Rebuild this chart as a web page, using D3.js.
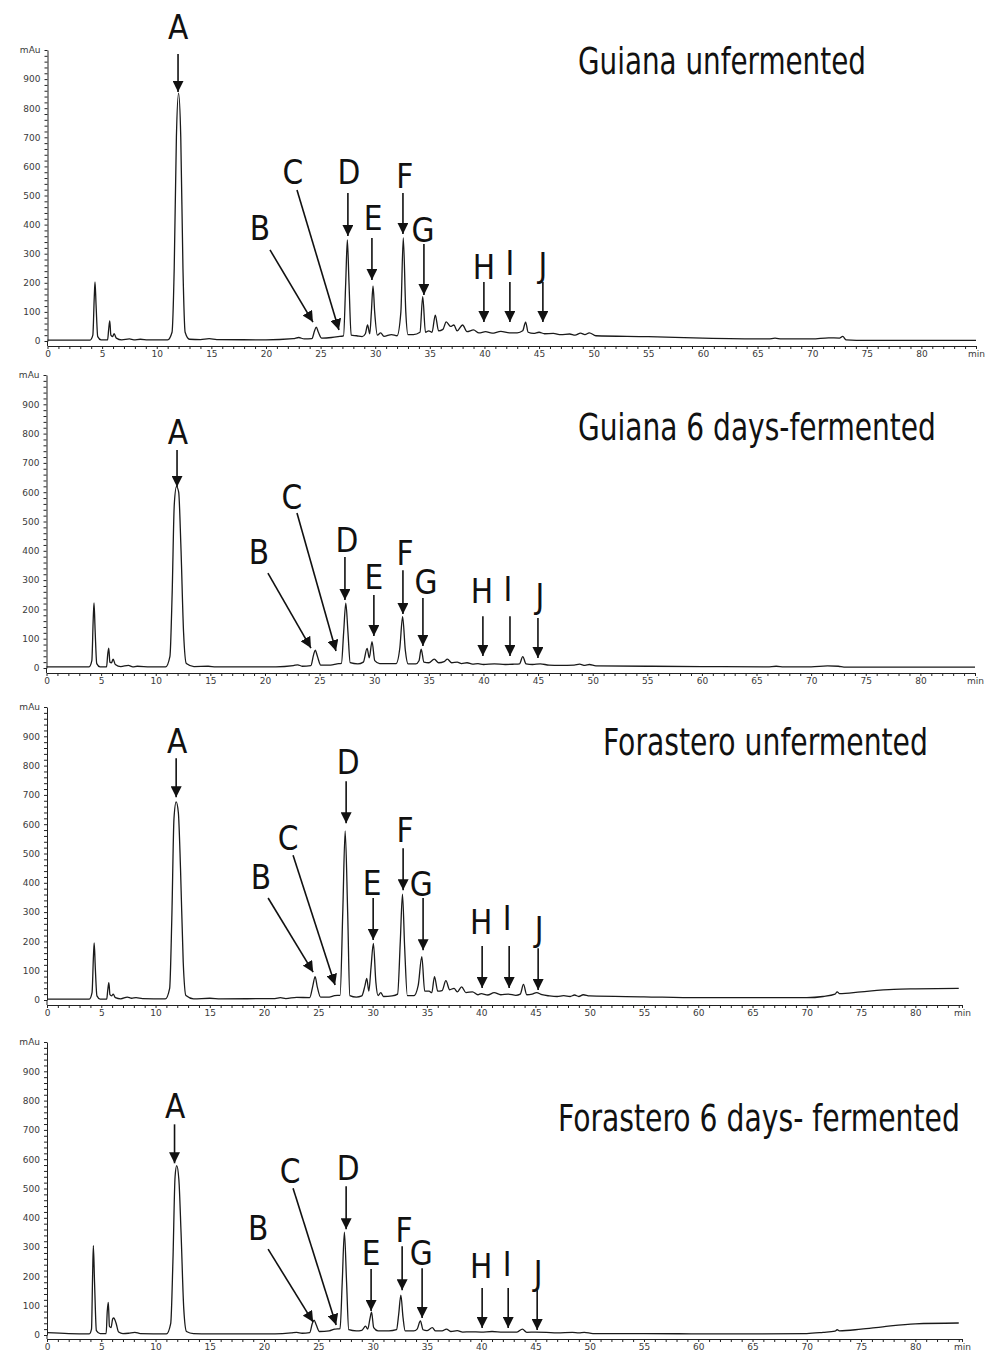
<!DOCTYPE html>
<html>
<head>
<meta charset="utf-8">
<script src="https://cdn.jsdelivr.net/npm/d3@7"></script>
<style>
body { margin: 0; background: #fff; }
svg { display: block; }
.axis text { font-family: "DejaVu Sans", Verdana, sans-serif; font-size: 9px; fill: #3a3a3a; }
.axis path, .axis line { stroke: #222; }
.peak { font-family: "Liberation Sans Narrow", "DejaVu Sans Condensed", "Roboto", sans-serif; font-size: 33px; fill: #111; }
.title { font-family: "Liberation Sans Narrow", "DejaVu Sans Condensed", "Roboto", sans-serif; font-size: 38px; fill: #111; }
</style>
</head>
<body>
<svg id="chart"></svg>
<script>

var titles = ["Guiana unfermented", "Guiana 6 days-fermented", "Forastero unfermented", "Forastero 6 days- fermented"];
var mauTicks = [0, 100, 200, 300, 400, 500, 600, 700, 800, 900];
var timeTicks = [0, 5, 10, 15, 20, 25, 30, 35, 40, 45, 50, 55, 60, 65, 70, 75, 80];

// [retention time (min), absorbance (mAu)]
var trace_guiana_unf = [[0,3],[2,3],[3.9,3],[4.15,20],[4.28,150],[4.35,203],[4.45,120],[4.6,15],[4.9,4],[5.5,4],[5.6,40],[5.7,69],[5.8,20],[5.95,15],[6.1,25],[6.3,10],[6.8,4],[7.5,7],[7.9,4],[8.5,6],[9.2,4],[11.0,4],[11.4,30],[11.6,250],[11.8,700],[12.0,852],[12.2,700],[12.4,250],[12.6,30],[13.0,6],[14.0,5],[14.8,8],[15.5,5],[20,4],[22.5,8],[23,12],[23.5,7],[24.2,8],[24.45,35],[24.6,48],[24.8,30],[25.1,10],[26,12],[26.6,15],[27.1,18],[27.3,200],[27.45,347],[27.6,200],[27.8,20],[28.3,18],[28.8,15],[29.1,25],[29.3,55],[29.5,25],[29.65,100],[29.8,189],[29.95,100],[30.2,20],[30.5,28],[30.8,16],[31.5,22],[32,18],[32.35,100],[32.57,354],[32.8,100],[33.0,22],[33.5,22],[34.1,30],[34.35,152],[34.6,30],[34.9,35],[35.2,30],[35.5,89],[35.8,35],[36.2,40],[36.5,66],[36.9,50],[37.2,55],[37.5,35],[38.0,55],[38.4,32],[39.0,38],[39.5,28],[40.1,32],[40.7,27],[41.5,33],[42.3,28],[43.0,28],[43.5,35],[43.77,65],[44.0,30],[44.5,26],[45.0,30],[45.5,25],[46.3,26],[47,22],[47.8,24],[48.3,20],[48.8,27],[49.2,22],[49.6,28],[50.2,18],[55,15],[60,10],[66,7],[66.6,10],[67.2,7],[70,7],[71.5,11],[72.5,10],[72.8,16],[73.1,4],[75,2],[80,2],[85,2]];

var trace_guiana_ferm = [[0,4],[3.9,4],[4.15,25],[4.28,170],[4.35,222],[4.45,130],[4.6,15],[4.9,4],[5.5,4],[5.6,45],[5.7,68],[5.8,20],[5.95,18],[6.1,30],[6.3,12],[6.8,5],[7.5,9],[7.9,4],[8.3,6],[9.5,4],[10.9,4],[11.3,40],[11.5,250],[11.7,560],[11.9,619],[12.1,600],[12.3,420],[12.55,120],[12.8,15],[13.5,5],[14.8,6],[15.5,4],[21,4],[22.6,8],[23,11],[23.4,6],[24.2,8],[24.45,45],[24.6,61],[24.8,40],[25.1,10],[26.0,10],[26.6,14],[27.0,16],[27.2,120],[27.4,221],[27.6,120],[27.8,18],[28.5,14],[29.0,20],[29.35,67],[29.55,35],[29.8,90],[30.05,25],[30.5,15],[31.2,15],[32.0,15],[32.35,70],[32.6,175],[32.85,60],[33.1,14],[33.8,14],[34.1,25],[34.3,64],[34.55,20],[35.0,18],[35.5,30],[35.9,18],[36.4,22],[36.7,30],[37.1,18],[37.6,20],[38.0,15],[38.5,18],[39.0,13],[39.5,15],[40.0,12],[41,14],[42,12],[42.8,13],[43.3,14],[43.6,39],[43.9,14],[44.5,12],[45.2,14],[46,10],[47,9],[48.3,10],[48.8,13],[49.3,9],[49.7,12],[50.3,7],[55,6],[60,5],[66,4],[66.8,6],[67.5,4],[70,4],[71.5,7],[72.5,6],[73,3],[80,3],[85,3]];

var trace_forastero_unf = [[0,3],[3.9,3],[4.15,25],[4.28,150],[4.35,195],[4.45,110],[4.6,14],[4.9,3],[5.5,3],[5.6,35],[5.7,59],[5.8,18],[5.95,14],[6.1,20],[6.3,8],[6.8,4],[7.4,10],[7.8,6],[8.2,8],[8.8,5],[10.9,4],[11.3,40],[11.5,280],[11.7,620],[11.9,676],[12.1,640],[12.3,450],[12.55,130],[12.8,15],[13.5,4],[15,6],[16,4],[21,5],[21.5,8],[22,5],[23,9],[24.2,8],[24.5,50],[24.7,80],[24.9,45],[25.2,10],[26,10],[26.5,15],[27.0,16],[27.25,300],[27.47,577],[27.7,300],[27.9,15],[28.5,10],[29.0,14],[29.3,50],[29.46,74],[29.65,30],[29.85,110],[30.07,193],[30.3,60],[30.5,15],[30.75,25],[31.0,12],[31.8,14],[32.3,20],[32.55,200],[32.75,361],[32.95,180],[33.2,15],[33.8,15],[34.2,50],[34.53,148],[34.8,30],[35.2,30],[35.45,25],[35.7,80],[36.0,30],[36.4,32],[36.75,66],[37.1,35],[37.5,40],[37.8,28],[38.2,45],[38.6,25],[39.2,28],[39.7,18],[40.0,22],[40.6,17],[41.2,25],[41.8,18],[42.5,20],[43.2,16],[43.6,20],[43.9,53],[44.2,18],[44.7,20],[45.1,25],[45.6,18],[46.3,14],[47,12],[47.6,15],[48.2,12],[48.6,17],[49.0,12],[49.4,18],[50,14],[55,11],[60,8],[65,8],[70,8],[71.5,12],[72.6,20],[72.8,28],[73.0,22],[75,28],[78,36],[80,38],[84,40]];

var trace_forastero_ferm = [[0,8],[2,5],[3.9,4],[4.1,20],[4.2,200],[4.27,305],[4.38,180],[4.55,15],[4.9,5],[5.45,5],[5.55,80],[5.65,111],[5.75,30],[5.9,25],[6.05,55],[6.15,58],[6.35,42],[6.6,10],[7.0,5],[7.5,6],[8.1,9],[8.6,5],[11.0,4],[11.4,40],[11.6,250],[11.8,540],[11.95,578],[12.15,530],[12.35,350],[12.6,90],[12.85,12],[13.5,5],[15,4],[21,4],[22.5,7],[23,9],[23.5,6],[24.2,8],[24.45,40],[24.6,51],[24.8,35],[25.1,12],[26,14],[26.5,20],[27.0,22],[27.2,180],[27.4,351],[27.6,180],[27.8,18],[28.5,14],[29.0,16],[29.35,30],[29.55,20],[29.75,55],[29.9,78],[30.1,25],[30.5,14],[31.5,14],[32.2,18],[32.4,70],[32.6,136],[32.8,60],[33.0,14],[33.8,14],[34.1,20],[34.4,48],[34.65,18],[35.0,15],[35.5,25],[35.8,14],[36.4,14],[36.8,20],[37.2,12],[37.8,15],[38.3,10],[39,11],[40,10],[41,12],[42,10],[43.3,10],[43.8,20],[44.2,9],[45,10],[46,9],[47,7],[48.4,9],[49,7],[49.5,9],[50.3,5],[55,5],[60,4],[65,4],[70,5],[71.5,9],[72.6,13],[72.8,18],[73.0,14],[75,20],[77,28],[80,38],[84,41]];

// [letter, text min, text mAu, arrow from min, from mAu, arrow to min, to mAu]
var labels_guiana_unf = [
    ["A", 11.95, 1079, 11.95, 986, 11.95, 856],
    ["B", 19.45, 388, 20.37, 313, 24.3, 65],
    ["C", 22.47, 581, 22.84, 519, 26.68, 38],
    ["D", 27.6, 581, 27.5, 509, 27.5, 361],
    ["E", 29.8, 423, 29.7, 354, 29.7, 210],
    ["F", 32.72, 567, 32.54, 509, 32.54, 368],
    ["G", 34.37, 381, 34.46, 333, 34.46, 158],
    ["H", 39.95, 254, 39.95, 203, 39.95, 65],
    ["I", 42.33, 268, 42.33, 203, 42.33, 65],
    ["J", 45.35, 261, 45.35, 203, 45.35, 65]
];
var labels_guiana_ferm = [
    ["A", 12.04, 805, 11.95, 744, 11.95, 618],
    ["B", 19.45, 396, 20.27, 324, 24.21, 68],
    ["C", 22.47, 584, 22.93, 529, 26.5, 58],
    ["D", 27.5, 437, 27.32, 379, 27.32, 232],
    ["E", 29.97, 311, 29.97, 249, 29.97, 109],
    ["F", 32.82, 392, 32.63, 334, 32.63, 184],
    ["G", 34.74, 294, 34.46, 239, 34.46, 75],
    ["H", 39.86, 263, 39.95, 177, 39.95, 41],
    ["I", 42.24, 270, 42.43, 177, 42.43, 41],
    ["J", 45.17, 246, 44.99, 171, 44.99, 34]
];
var labels_forastero_unf = [
    ["A", 11.98, 883, 11.9, 825, 11.9, 692],
    ["B", 19.72, 419, 20.37, 348, 24.52, 95],
    ["C", 22.21, 552, 22.67, 494, 26.54, 51],
    ["D", 27.74, 811, 27.56, 747, 27.56, 603],
    ["E", 29.95, 399, 30.05, 348, 30.05, 205],
    ["F", 32.99, 580, 32.81, 518, 32.81, 375],
    ["G", 34.47, 396, 34.65, 348, 34.65, 170],
    ["H", 40.0, 266, 40.09, 184, 40.09, 41],
    ["I", 42.4, 280, 42.58, 184, 42.58, 41],
    ["J", 45.35, 242, 45.25, 177, 45.25, 34]
];
var labels_forastero_ferm = [
    ["A", 11.8, 781, 11.75, 719, 11.75, 586],
    ["B", 19.45, 365, 20.37, 293, 24.52, 44],
    ["C", 22.4, 559, 22.67, 501, 26.64, 34],
    ["D", 27.74, 569, 27.56, 508, 27.56, 361],
    ["E", 29.86, 280, 29.86, 225, 29.86, 82],
    ["F", 32.9, 358, 32.72, 303, 32.72, 153],
    ["G", 34.47, 280, 34.56, 228, 34.56, 58],
    ["H", 40.0, 235, 40.09, 160, 40.09, 24],
    ["I", 42.4, 242, 42.49, 160, 42.49, 24],
    ["J", 45.25, 211, 45.16, 153, 45.16, 17]
];

var traces = [trace_guiana_unf, trace_guiana_ferm, trace_forastero_unf, trace_forastero_ferm];
var labelSets = [labels_guiana_unf, labels_guiana_ferm, labels_forastero_unf, labels_forastero_ferm];

// panel layout in pixels
var panels = [
    {x0: 47.5, xEnd: 976, tEnd: 85, yZero: 341, yTop: 50, axisY: 346, titleX: 578, titleY: 74, titleW: 288},
    {x0: 46.5, xEnd: 975, tEnd: 85, yZero: 668, yTop: 375, axisY: 673, titleX: 578, titleY: 440, titleW: 358},
    {x0: 47, xEnd: 962, tEnd: 84.3, yZero: 1000, yTop: 707, axisY: 1005, titleX: 603, titleY: 755, titleW: 325},
    {x0: 47, xEnd: 962, tEnd: 84.3, yZero: 1335, yTop: 1042, axisY: 1339, titleX: 558, titleY: 1131, titleW: 402}
];

var svgWidth = 991;
var svgHeight = 1354;
var svg = d3.select('#chart')
    .attr("width", svgWidth)
    .attr("height", svgHeight);

svg.append("defs").append("marker")
    .attr("id", "arrowhead")
    .attr("markerUnits", "userSpaceOnUse")
    .attr("markerWidth", 11)
    .attr("markerHeight", 11)
    .attr("viewBox", "0 0 11 11")
    .attr("refX", 11)
    .attr("refY", 5.5)
    .attr("orient", "auto")
    .append("path")
    .attr("d", "M0,0 L11,5.5 L0,11 z")
    .attr("fill", "#111");

function drawPanel(p, trace, labels, title) {
    var g = svg.append("g");

    var x = d3.scaleLinear().domain([0, p.tEnd]).range([p.x0, p.xEnd]);
    var y = d3.scaleLinear().domain([0, 1000]).range([p.yZero, p.yTop]);

    // y axis, minor ticks every 20 mAu
    var yAxis = d3.axisLeft(y)
        .tickValues(d3.range(0, 1001, 20))
        .tickSize(3)
        .tickSizeOuter(0)
        .tickPadding(4)
        .tickFormat(function(d) {
            if (d === 1000) return "mAu";
            if (mauTicks.indexOf(d) >= 0) return d;
            return "";
        });
    g.append("g")
        .attr("class", "axis")
        .attr("transform", "translate(" + p.x0 + ",0)")
        .call(yAxis);
    g.append("line")
        .attr("x1", p.x0).attr("x2", p.x0)
        .attr("y1", p.yZero).attr("y2", p.axisY)
        .attr("stroke", "#222");

    // x axis, minor ticks every minute, "min" at the end
    var xTicks = d3.range(0, Math.floor(p.tEnd) + 1);
    if (xTicks[xTicks.length - 1] !== p.tEnd) xTicks.push(p.tEnd);
    var xAxis = d3.axisBottom(x)
        .tickValues(xTicks)
        .tickSize(3)
        .tickSizeOuter(0)
        .tickPadding(2)
        .tickFormat(function(d) {
            if (d === p.tEnd) return "min";
            return timeTicks.indexOf(d) >= 0 ? d : "";
        });
    g.append("g")
        .attr("class", "axis")
        .attr("transform", "translate(0," + p.axisY + ")")
        .call(xAxis);

    // chromatogram trace
    var line = d3.line()
        .x(function(d) { return x(d[0]); })
        .y(function(d) { return y(d[1]); })
        .curve(d3.curveMonotoneX);
    g.append("path")
        .datum(trace)
        .attr("d", line)
        .attr("fill", "none")
        .attr("stroke", "#1a1a1a")
        .attr("stroke-width", 1.3);

    // peak arrows + letters
    g.selectAll("line.arrow")
        .data(labels)
        .enter()
        .append("line")
        .attr("class", "arrow")
        .attr("x1", function(d) { return x(d[3]); })
        .attr("y1", function(d) { return y(d[4]); })
        .attr("x2", function(d) { return x(d[5]); })
        .attr("y2", function(d) { return y(d[6]); })
        .attr("stroke", "#111")
        .attr("stroke-width", 1.6)
        .attr("marker-end", "url(#arrowhead)");

    g.selectAll("text.peak")
        .data(labels)
        .enter()
        .append("text")
        .attr("class", "peak")
        .attr("x", function(d) { return x(d[1]); })
        .attr("y", function(d) { return y(d[2]); })
        .attr("dy", "0.36em")
        .attr("text-anchor", "middle")
        .text(function(d) { return d[0]; });

    // title: shrink the font until it fits its width, then stretch back vertically
    var t = g.append("text")
        .attr("class", "title")
        .text(title);
    var natural = t.node().getComputedTextLength();
    var fs = 38 * Math.min(1, p.titleW / natural);
    t.style("font-size", fs + "px")
        .attr("transform", "translate(" + p.titleX + "," + p.titleY + ") scale(1," + (38 / fs) + ")");
}

for (var i = 0; i < panels.length; i++) {
    drawPanel(panels[i], traces[i], labelSets[i], titles[i]);
}

</script>
</body>
</html>
